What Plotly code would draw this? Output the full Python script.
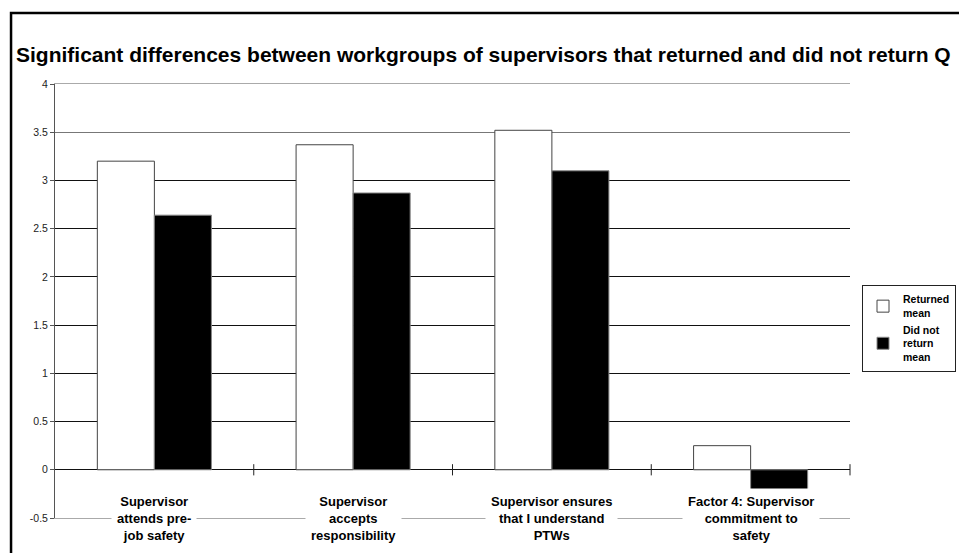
import plotly.graph_objects as go

categories = [
    "Supervisor<br>attends pre-<br>job safety",
    "Supervisor<br>accepts<br>responsibility",
    "Supervisor ensures<br>that I understand<br>PTWs",
    "Factor 4: Supervisor<br>commitment to<br>safety",
]
returned_mean = [3.2, 3.37, 3.52, 0.25]
did_not_return_mean = [2.64, 2.87, 3.1, -0.23]
y_tick_vals = [-0.5, 0, 0.5, 1, 1.5, 2, 2.5, 3, 3.5, 4]
y_tick_text = ["-0.5", "0", "0.5", "1", "1.5", "2", "2.5", "3", "3.5", "4"]
title_text = "Significant differences between workgroups of supervisors that returned and did not return Q"

FONT = "Liberation Sans, Arial, sans-serif"
idx = list(range(len(categories)))
boundaries = [i + 0.5 for i in idx]

fig = go.Figure()

# helper axes only carry gridlines of different shades
for ax in ["y2", "y5"]:
    fig.add_trace(go.Scatter(x=[None], y=[None], yaxis=ax, mode="markers",
                             showlegend=False, hoverinfo="skip"))

fig.add_trace(go.Bar(
    x=idx, y=returned_mean, name="<b>Returned<br>mean</b>",
    marker=dict(color="white", line=dict(color="#444444", width=1)),
))
fig.add_trace(go.Bar(
    x=idx, y=did_not_return_mean, name="<b>Did not<br>return<br>mean</b>",
    marker=dict(color="black", line=dict(color="#888888", width=1)),
))
fig.add_trace(go.Scatter(
    x=boundaries, y=[0] * len(boundaries), mode="markers",
    marker=dict(symbol="line-ns-open", size=8, color="#222222",
                line=dict(color="#222222", width=1)),
    showlegend=False, hoverinfo="skip", cliponaxis=False,
))

for i, c in zip(idx, categories):
    fig.add_annotation(
        x=i, y=-0.5, xref="x", yref="y", text="<b>" + c + "</b>",
        showarrow=False, yanchor="middle", xanchor="center",
        font=dict(family=FONT, size=13, color="black"),
        bgcolor="white", borderpad=5,
    )

fig.add_shape(type="rect", xref="paper", yref="paper",
              x0=-0.0553, x1=1.5, y0=-0.6, y1=1.1636,
              line=dict(color="black", width=2.5), layer="above")

grid_common = dict(range=[-0.5, 4], overlaying="y", showticklabels=False,
                   ticks="", showline=False, zeroline=False, showgrid=True,
                   gridwidth=1)

fig.update_layout(
    width=967, height=553,
    paper_bgcolor="white", plot_bgcolor="white",
    margin=dict(l=47, r=125, t=76, b=43),
    barmode="group", bargap=0.426, bargroupgap=0,
    title=dict(text="<b>" + title_text + "</b>", x=8 / 967, xref="container",
               xanchor="left", y=1 - 47 / 553, yref="container", yanchor="middle",
               font=dict(family=FONT, size=21, color="black")),
    legend=dict(x=(862 - 55) / 795, y=(518 - 285) / 434, xanchor="left", yanchor="top",
                bordercolor="#222222", borderwidth=1, bgcolor="white",
                font=dict(family=FONT, size=10.5, color="black"),
                itemwidth=30, tracegroupgap=10),
    xaxis=dict(range=[-0.5, 3.5], showticklabels=False, showgrid=False,
               zeroline=False, showline=True, mirror=True, linecolor="#aaaaaa",
               linewidth=1, ticks=""),
    yaxis=dict(range=[-0.5, 4], tickvals=y_tick_vals, ticktext=y_tick_text,
               showgrid=False,
               zeroline=True, zerolinecolor="#111111", zerolinewidth=1,
               showline=True, linecolor="#555555", linewidth=1,
               ticks="outside", ticklen=4, tickcolor="#555555",
               tickfont=dict(family=FONT, size=10.5, color="#222222")),
    yaxis2=dict(tickvals=[3.5], gridcolor="#777777", **grid_common),
    yaxis5=dict(tickvals=[0.5, 1, 1.5, 2, 2.5, 3], gridcolor="#111111", **grid_common),
    showlegend=True,
)

fig.write_html("out.html")
